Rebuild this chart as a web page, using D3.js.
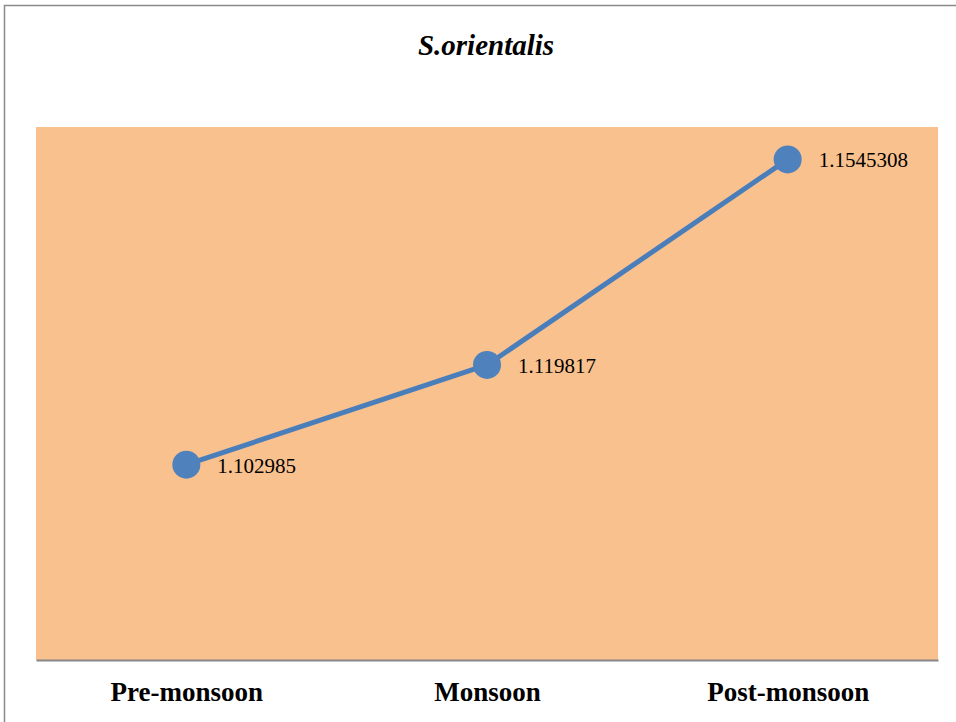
<!DOCTYPE html>
<html>
<head>
<meta charset="utf-8">
<script src="https://cdn.jsdelivr.net/npm/d3@7"></script>
<style>
  body { margin: 0; background: #fff; }
  svg { display: block; }
</style>
</head>
<body>
<div id="chart"></div>
<script>
// chart data
var categories = ["Pre-monsoon", "Monsoon", "Post-monsoon"];
var values = [1.102985, 1.119817, 1.1545308];
var valueLabels = ["1.102985", "1.119817", "1.1545308"];
var yDomain = [1.07, 1.16];
var title = "S.orientalis";

var width = 956, height = 722;
var plot = {left: 36, right: 938, top: 127, bottom: 660};

var svg = d3.select("#chart").append("svg")
    .attr("width", width)
    .attr("height", height);

// outer frame
svg.append("rect")
    .attr("x", 4.5).attr("y", 5.5)
    .attr("width", 970).attr("height", 740)
    .attr("fill", "#fff")
    .attr("stroke", "#8a8a8a")
    .attr("stroke-width", 1.5);

// plot background
svg.append("rect")
    .attr("x", plot.left).attr("y", plot.top)
    .attr("width", plot.right - plot.left)
    .attr("height", plot.bottom - plot.top)
    .attr("fill", "#f9c18e");

var x = d3.scalePoint()
    .domain(categories)
    .range([plot.left, plot.right])
    .padding(0.5);

var y = d3.scaleLinear()
    .domain(yDomain)
    .range([plot.bottom, plot.top]);

// category axis
var xAxis = svg.append("g")
    .attr("transform", "translate(0," + plot.bottom + ")")
    .call(d3.axisBottom(x).tickSize(0).tickPadding(0));
xAxis.select(".domain")
    .attr("stroke", "#868686")
    .attr("stroke-width", 2);
xAxis.selectAll("text")
    .attr("dy", null)
    .attr("y", 41)
    .attr("fill", "#000")
    .style("font-family", "'Liberation Serif', 'Times New Roman', serif")
    .style("font-size", "27px")
    .style("font-weight", "bold");

// title
svg.append("text")
    .attr("x", 486).attr("y", 55)
    .attr("text-anchor", "middle")
    .style("font-family", "'Liberation Serif', 'Times New Roman', serif")
    .style("font-size", "29px")
    .style("font-weight", "bold")
    .style("font-style", "italic")
    .text(title);

var pts = categories.map(function (c, i) {
    return {cat: c, v: values[i], label: valueLabels[i]};
});

var line = d3.line()
    .x(function (d) { return x(d.cat); })
    .y(function (d) { return y(d.v); });

svg.append("path")
    .datum(pts)
    .attr("d", line)
    .attr("fill", "none")
    .attr("stroke", "#4a7ebb")
    .attr("stroke-width", 5)
    .attr("stroke-linejoin", "round");

svg.selectAll(".pt")
    .data(pts)
    .enter().append("circle")
    .attr("class", "pt")
    .attr("cx", function (d) { return x(d.cat); })
    .attr("cy", function (d) { return y(d.v); })
    .attr("r", 14)
    .attr("fill", "#4f81bd");

svg.selectAll(".lbl")
    .data(pts)
    .enter().append("text")
    .attr("class", "lbl")
    .attr("x", function (d) { return x(d.cat) + 31; })
    .attr("y", function (d) { return y(d.v) + 8; })
    .style("font-family", "'Liberation Serif', 'Times New Roman', serif")
    .style("font-size", "21px")
    .text(function (d) { return d.label; });
</script>
</body>
</html>
